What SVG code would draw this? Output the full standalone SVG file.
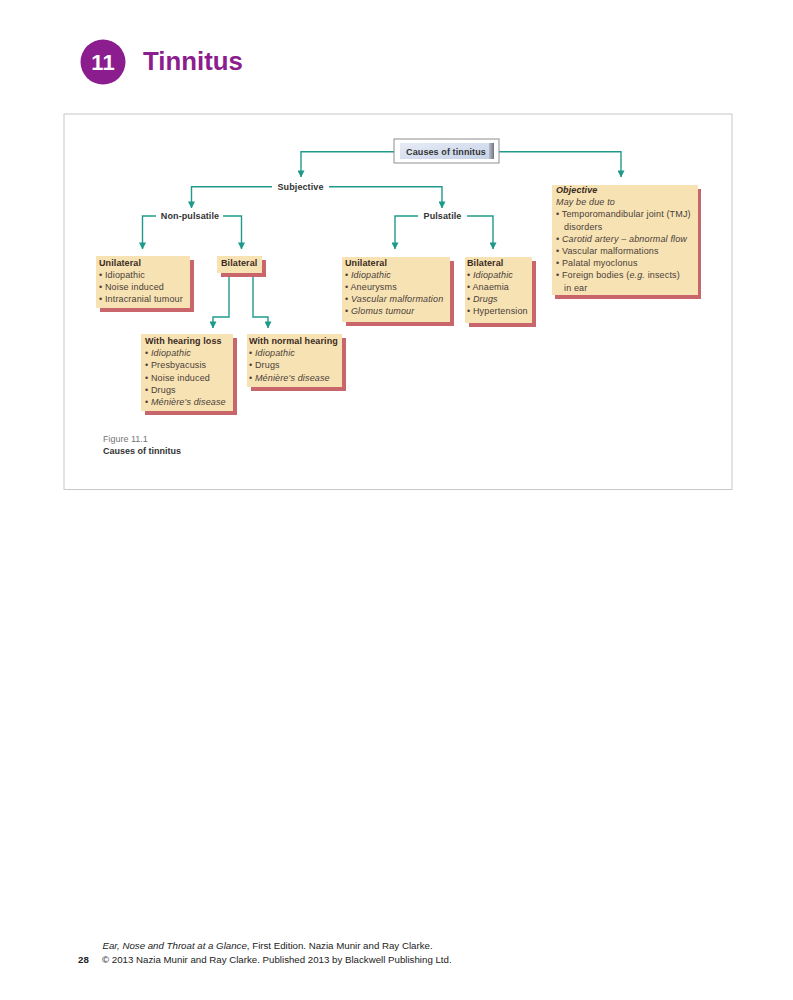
<svg xmlns="http://www.w3.org/2000/svg" width="793" height="1000" viewBox="0 0 793 1000">
<style>
.t{font-family:"Liberation Sans",Arial,sans-serif;font-size:9px;fill:#4a4038;letter-spacing:0.15px}
.h{font-family:"Liberation Sans",Arial,sans-serif;font-size:9px;font-weight:bold;fill:#3a2a1e;letter-spacing:0.1px}
.lbl{font-family:"Liberation Sans",Arial,sans-serif;font-size:9px;font-weight:bold;fill:#333;letter-spacing:0.1px}
.i{font-style:italic}
.box{fill:#f7e2b4}
.sh{fill:#c9666c}
.con{fill:none;stroke:#1e9a8c;stroke-width:1.4}
.foot{font-family:"Liberation Sans",Arial,sans-serif;font-size:9.7px;fill:#222}
</style>
<defs>
<marker id="ar" viewBox="0 0 8 8" refX="7.5" refY="4" markerWidth="7" markerHeight="7" markerUnits="userSpaceOnUse" orient="auto">
<path d="M0,0 L8,4 L0,8 Z" fill="#1e9a8c"/>
</marker>
<linearGradient id="blue" x1="0" y1="0" x2="1" y2="1">
<stop offset="0" stop-color="#e6ecf6"/>
<stop offset="1" stop-color="#c7d3e8"/>
</linearGradient>
<linearGradient id="dark" x1="0" y1="0" x2="1" y2="0">
<stop offset="0" stop-color="#b9bfca"/>
<stop offset="1" stop-color="#6f7480"/>
</linearGradient>
</defs>
<rect width="793" height="1000" fill="#fff"/>

<g id="header">
<circle cx="103" cy="62" r="22.5" fill="#8c1d8e"/>
<text x="103" y="70" text-anchor="middle" font-family="Liberation Sans,Arial,sans-serif" font-size="22" font-weight="bold" fill="#fff">11</text>
<text x="143" y="70" font-family="Liberation Sans,Arial,sans-serif" font-size="25.8" font-weight="bold" fill="#8c1d8e">Tinnitus</text>
</g>

<rect id="frame" x="64" y="114" width="668" height="375.5" fill="none" stroke="#c8c8c8" stroke-width="1"/>

<g id="connectors">
<path class="con" d="M394,151.7 H301 V177" marker-end="url(#ar)"/>
<path class="con" d="M499,151.7 H621 V177" marker-end="url(#ar)"/>
<path class="con" d="M272,186.7 H191.5 V208" marker-end="url(#ar)"/>
<path class="con" d="M329,186.7 H442 V208" marker-end="url(#ar)"/>
<path class="con" d="M156,216 H142.5 V249" marker-end="url(#ar)"/>
<path class="con" d="M223,216 H241.5 V249" marker-end="url(#ar)"/>
<path class="con" d="M418,216 H395 V249" marker-end="url(#ar)"/>
<path class="con" d="M467,216 H493 V249" marker-end="url(#ar)"/>
<path class="con" d="M229,277 V317 H213 V328" marker-end="url(#ar)"/>
<path class="con" d="M253,277 V317 H268 V328" marker-end="url(#ar)"/>
</g>

<g id="root">
<rect x="394" y="139" width="105" height="24" fill="#fff" stroke="#8e8e8e" stroke-width="1"/>
<rect x="400" y="143" width="89" height="16" fill="url(#blue)"/>
<rect x="489" y="143" width="5" height="16" fill="url(#dark)"/>
<text class="lbl" x="446" y="155" text-anchor="middle">Causes of tinnitus</text>
</g>

<g id="subjective"><text class="lbl" x="300.5" y="189.5" text-anchor="middle">Subjective</text></g>
<g id="nonpulsatile"><text class="lbl" x="190" y="219" text-anchor="middle">Non-pulsatile</text></g>
<g id="pulsatile"><text class="lbl" x="442.5" y="219" text-anchor="middle">Pulsatile</text></g>

<g id="objective">
<rect class="sh" x="555" y="189" width="146" height="110"/>
<rect class="box" x="552" y="185" width="146" height="110"/>
<text class="h i" x="556" y="193">Objective</text>
<text class="t i" x="556" y="205.2">May be due to</text>
<text class="t" x="556" y="217.4">• Temporomandibular joint (TMJ)</text>
<text class="t" x="564" y="229.6">disorders</text>
<text class="t i" x="556" y="241.8">• Carotid artery – abnormal flow</text>
<text class="t" x="556" y="254">• Vascular malformations</text>
<text class="t" x="556" y="266.2">• Palatal myoclonus</text>
<text class="t" x="556" y="278.4">• Foreign bodies (<tspan class="i">e.g.</tspan> insects)</text>
<text class="t" x="564" y="290.6">in ear</text>
</g>

<g id="np-unilateral">
<rect class="sh" x="100" y="260" width="94" height="52"/>
<rect class="box" x="96" y="256" width="94" height="52"/>
<text class="h" x="99" y="265.5">Unilateral</text>
<text class="t" x="99" y="277.5">• Idiopathic</text>
<text class="t" x="99" y="289.5">• Noise induced</text>
<text class="t" x="99" y="301.5">• Intracranial tumour</text>
</g>

<g id="np-bilateral">
<rect class="sh" x="221" y="260" width="45" height="17"/>
<rect class="box" x="217" y="256" width="45" height="17"/>
<text class="h" x="221" y="266">Bilateral</text>
</g>

<g id="p-unilateral">
<rect class="sh" x="346" y="261" width="108" height="65"/>
<rect class="box" x="342" y="257" width="108" height="65"/>
<text class="h" x="345" y="265.5">Unilateral</text>
<text class="t" x="345" y="277.5">• <tspan class="i">Idiopathic</tspan></text>
<text class="t" x="345" y="289.5">• Aneurysms</text>
<text class="t" x="345" y="301.5">• <tspan class="i">Vascular malformation</tspan></text>
<text class="t" x="345" y="313.5">• <tspan class="i">Glomus tumour</tspan></text>
</g>

<g id="p-bilateral">
<rect class="sh" x="469" y="261" width="67" height="66"/>
<rect class="box" x="465" y="257" width="67" height="66"/>
<text class="h" x="467" y="265.5">Bilateral</text>
<text class="t" x="467" y="277.5">• <tspan class="i">Idiopathic</tspan></text>
<text class="t" x="467" y="289.5">• Anaemia</text>
<text class="t" x="467" y="301.5">• <tspan class="i">Drugs</tspan></text>
<text class="t" x="467" y="313.5">• Hypertension</text>
</g>

<g id="hearing-loss">
<rect class="sh" x="145" y="338" width="92" height="77"/>
<rect class="box" x="141" y="334" width="92" height="77"/>
<text class="h" x="145" y="344">With hearing loss</text>
<text class="t" x="145" y="356">• <tspan class="i">Idiopathic</tspan></text>
<text class="t" x="145" y="368.3">• Presbyacusis</text>
<text class="t" x="145" y="380.6">• Noise induced</text>
<text class="t" x="145" y="392.9">• Drugs</text>
<text class="t" x="145" y="405.2">• <tspan class="i">Ménière's disease</tspan></text>
</g>

<g id="normal-hearing">
<rect class="sh" x="251" y="338" width="95" height="53"/>
<rect class="box" x="247" y="334" width="95" height="53"/>
<text class="h" x="249" y="344">With normal hearing</text>
<text class="t" x="249" y="356">• <tspan class="i">Idiopathic</tspan></text>
<text class="t" x="249" y="368.3">• Drugs</text>
<text class="t" x="249" y="380.6">• <tspan class="i">Ménière's disease</tspan></text>
</g>

<g id="caption">
<text x="103" y="441.5" font-family="Liberation Sans,Arial,sans-serif" font-size="9" fill="#777">Figure 11.1</text>
<text x="103" y="454" font-family="Liberation Sans,Arial,sans-serif" font-size="9" font-weight="bold" fill="#333">Causes of tinnitus</text>
</g>

<g id="footer">
<text class="foot" x="102.5" y="949"><tspan font-style="italic">Ear, Nose and Throat at a Glance</tspan>, First Edition. Nazia Munir and Ray Clarke.</text>
<text class="foot" x="78" y="963" font-weight="bold">28</text>
<text class="foot" x="102" y="963">© 2013 Nazia Munir and Ray Clarke. Published 2013 by Blackwell Publishing Ltd.</text>
</g>
</svg>
